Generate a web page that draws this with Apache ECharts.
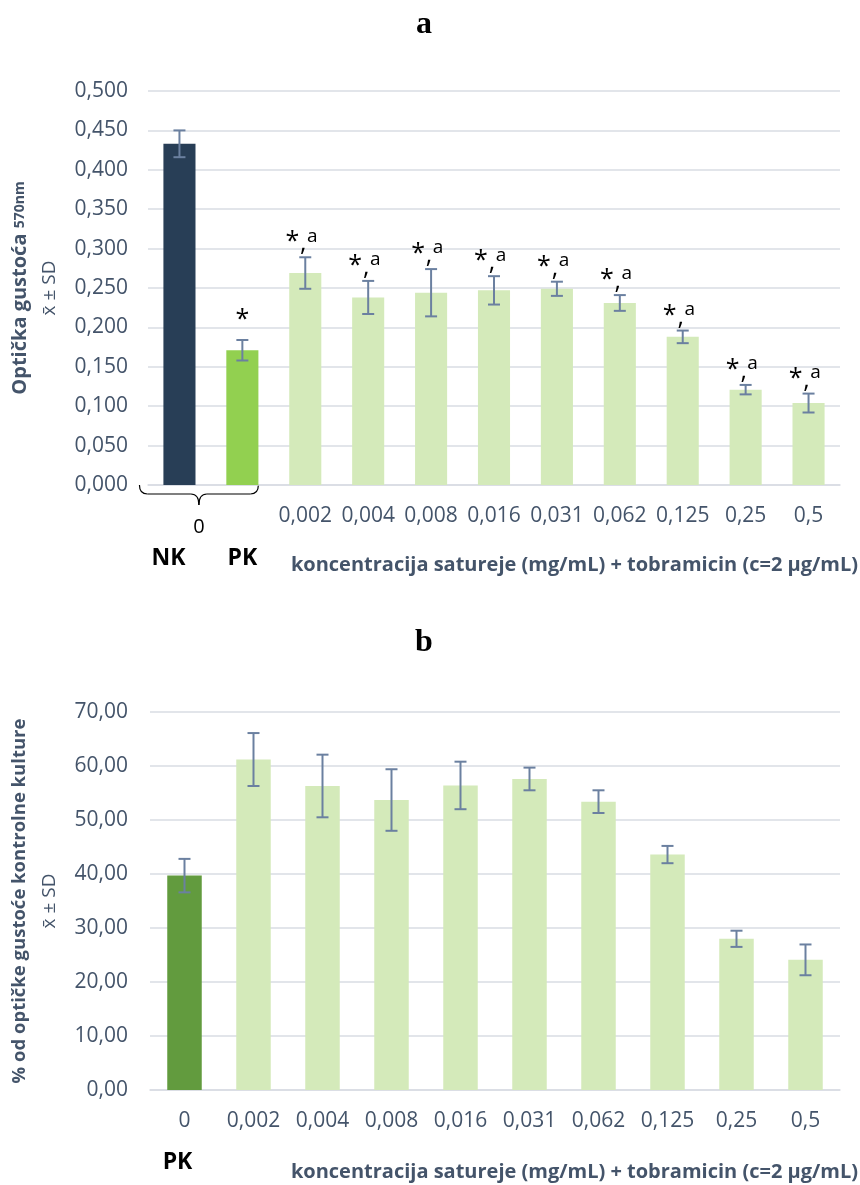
<!DOCTYPE html>
<html><head><meta charset="utf-8">
<script src="https://cdn.jsdelivr.net/npm/echarts@6/dist/echarts.min.js"></script>
<style>html,body{margin:0;padding:0;background:#fff}#c{width:860px;height:1185px}</style>
</head><body><div id="c"></div>
<script>
// ---- data: chart a ----
const catsA = ['NK','PK','0,002','0,004','0,008','0,016','0,031','0,062','0,125','0,25','0,5'];
const valsA = [0.433,0.171,0.269,0.238,0.244,0.247,0.249,0.231,0.188,0.121,0.104];
const sdA   = [0.017,0.013,0.020,0.021,0.030,0.018,0.009,0.010,0.008,0.006,0.012];
const sigA  = ['','*','*a','*a','*a','*a','*a','*a','*a','*a','*a'];
const ticksA = ['0,000','0,050','0,100','0,150','0,200','0,250','0,300','0,350','0,400','0,450','0,500'];
// ---- data: chart b ----
const catsB = ['0','0,002','0,004','0,008','0,016','0,031','0,062','0,125','0,25','0,5'];
const valsB = [39.7,61.2,56.3,53.7,56.4,57.6,53.4,43.6,28.0,24.1];
const sdB   = [3.1,4.9,5.8,5.7,4.4,2.1,2.1,1.6,1.5,2.85];
const ticksB = ['0,00','10,00','20,00','30,00','40,00','50,00','60,00','70,00'];

const FONT = 'Open Sans';
const SLATE = '#44546a';
const ERR = '#6b80a0';
const GRID = '#d9dce3';

const colorA = i => i === 0 ? '#283e56' : (i === 1 ? '#92d050' : '#d4eaba');
const colorB = i => i === 0 ? '#629b3e' : '#d4eaba';

function errRender(params, api) {
  const x = api.value(0), v = api.value(1), sd = api.value(2), sg = api.value(3);
  const hi = api.coord([x, v + sd]);
  const lo = api.coord([x, v - sd]);
  const cap = 6;
  const st = {stroke: ERR, lineWidth: 2};
  const ch = [
    {type:'line', shape:{x1:hi[0], y1:hi[1], x2:lo[0], y2:lo[1]}, style:st},
    {type:'line', shape:{x1:hi[0]-cap, y1:hi[1], x2:hi[0]+cap, y2:hi[1]}, style:st},
    {type:'line', shape:{x1:lo[0]-cap, y1:lo[1], x2:lo[0]+cap, y2:lo[1]}, style:st}
  ];
  const txt = (t, dx, dy, size) => ({type:'text', x: hi[0]+dx, y: hi[1]+dy,
    style:{text:t, fill:'#000', fontSize:size, fontFamily:FONT, align:'center', verticalAlign:'middle'}});
  if (sg === '*') {
    ch.push(txt('*', 0, -20, 25));
  } else if (sg === '*a') {
    ch.push(txt('*', -13, -15, 25));
    ch.push(txt('a', 7, -21, 19));
    ch.push(txt(',', -2, -13, 25));
  }
  return {type:'group', children: ch};
}

const dataA = valsA.map((v,i) => ({value:v, itemStyle:{color: colorA(i)}}));
const dataB = valsB.map((v,i) => ({value:v, itemStyle:{color: colorB(i)}}));
const errA = valsA.map((v,i) => [i, v, sdA[i], sigA[i]]);
const errB = valsB.map((v,i) => [i, v, sdB[i], '']);

const chart = echarts.init(document.getElementById('c'), null, {renderer:'canvas'});
const LH = 29;
const yName = (l1, small, fs) => ({
  name: small ? '{b|' + l1 + ' }{s|' + small + '}\n{n|x̄ ± SD}' : '{b|' + l1 + '}\n{n|x̄ ± SD}',
  nameLocation:'middle', nameRotate:90,
  nameTextStyle:{color:SLATE, lineHeight:LH, rich:{
    b:{fontFamily:FONT, fontWeight:'bold', fontSize:fs, color:SLATE, lineHeight:LH},
    s:{fontFamily:FONT, fontWeight:'bold', fontSize:14, color:SLATE, lineHeight:LH},
    n:{fontFamily:FONT, fontSize:19, color:SLATE, lineHeight:LH}
  }}
});
chart.setOption({
  animation:false,
  title:[
    {text:'a', left:419, top:4, textAlign:'center', textStyle:{fontFamily:'Liberation Serif', fontWeight:'bold', fontSize:32, color:'#000'}},
    {text:'b', left:419, top:622, textAlign:'center', textStyle:{fontFamily:'Liberation Serif', fontWeight:'bold', fontSize:32, color:'#000'}}
  ],
  grid:[
    {left:148, right:20, top:91, height:394, outerBoundsMode:'none', containLabel:false},
    {left:150, right:20, top:712, height:378, outerBoundsMode:'none', containLabel:false}
  ],
  xAxis:[
    {type:'category', gridIndex:0, data:catsA, axisTick:{show:false},
     axisLine:{lineStyle:{color:GRID, width:1.5}},
     axisLabel:{color:SLATE, fontFamily:FONT, fontSize:21, margin:21, interval:0,
       formatter:(v,i) => i < 2 ? '' : v}},
    {type:'category', gridIndex:1, data:catsB, axisTick:{show:false},
     axisLine:{lineStyle:{color:GRID, width:1.5}},
     axisLabel:{color:SLATE, fontFamily:FONT, fontSize:21, margin:21, interval:0}}
  ],
  yAxis:[
    Object.assign({type:'value', gridIndex:0, min:0, max:0.5, interval:0.05,
     axisLabel:{color:SLATE, fontFamily:FONT, fontSize:21, margin:20,
       formatter:v => ticksA[Math.round(v/0.05)]},
     splitLine:{lineStyle:{color:GRID, width:1.5}}, axisLine:{show:false}, axisTick:{show:false},
     nameGap:76}, yName('Optička gustoća', '570nm', 20)),
    Object.assign({type:'value', gridIndex:1, min:0, max:70, interval:10,
     axisLabel:{color:SLATE, fontFamily:FONT, fontSize:21, margin:22,
       formatter:v => ticksB[Math.round(v/10)]},
     splitLine:{lineStyle:{color:GRID, width:1.5}}, axisLine:{show:false}, axisTick:{show:false},
     nameGap:75}, yName('% od optičke gustoće kontrolne kulture', null, 18.5))
  ],
  series:[
    {type:'bar', xAxisIndex:0, yAxisIndex:0, data:dataA, barWidth:'51%'},
    {type:'custom', xAxisIndex:0, yAxisIndex:0, data:errA, renderItem:errRender, z:5},
    {type:'bar', xAxisIndex:1, yAxisIndex:1, data:dataB, barWidth:'50%'},
    {type:'custom', xAxisIndex:1, yAxisIndex:1, data:errB, renderItem:errRender, z:5}
  ]
});

// decorations positioned from the axes
const xNK = chart.convertToPixel({xAxisIndex:0}, 'NK');
const xPK = chart.convertToPixel({xAxisIndex:0}, 'PK');
const y0A = chart.convertToPixel({yAxisIndex:0}, 0);
const xB0 = chart.convertToPixel({xAxisIndex:1}, '0');
const y0B = chart.convertToPixel({yAxisIndex:1}, 0);
const L = xNK - 40, R = xPK + 16, M = (L + R) / 2, T = y0A, Hm = y0A + 9, B = y0A + 20;
const bs = {stroke:'#000', lineWidth:1.2, fill:null};
const boldBlack = {fontFamily:FONT, fontWeight:'bold', fontSize:23, fill:'#000', align:'center', verticalAlign:'middle'};
const xTitle = {fontFamily:FONT, fontWeight:'bold', fontSize:20, fill:SLATE, align:'right', verticalAlign:'middle'};
chart.setOption({graphic:[
  {type:'bezierCurve', shape:{x1:L, y1:T, x2:L+8, y2:Hm, cpx1:L, cpy1:Hm}, style:bs},
  {type:'line', shape:{x1:L+8, y1:Hm, x2:M-8, y2:Hm}, style:bs},
  {type:'bezierCurve', shape:{x1:M-8, y1:Hm, x2:M, y2:B, cpx1:M, cpy1:Hm}, style:bs},
  {type:'bezierCurve', shape:{x1:M, y1:B, x2:M+8, y2:Hm, cpx1:M, cpy1:Hm}, style:bs},
  {type:'line', shape:{x1:M+8, y1:Hm, x2:R-8, y2:Hm}, style:bs},
  {type:'bezierCurve', shape:{x1:R-8, y1:Hm, x2:R, y2:T, cpx1:R, cpy1:Hm}, style:bs},
  {type:'text', x:M, y:y0A+42, style:{text:'0', fontFamily:FONT, fontSize:20, fill:'#000', align:'center', verticalAlign:'middle'}},
  {type:'text', x:xNK-11, y:y0A+73, style:Object.assign({text:'NK'}, boldBlack)},
  {type:'text', x:xPK, y:y0A+73, style:Object.assign({text:'PK'}, boldBlack)},
  {type:'text', x:858, y:y0A+80, style:Object.assign({text:'koncentracija satureje (mg/mL) + tobramicin (c=2 µg/mL)'}, xTitle)},
  {type:'text', x:xB0-7, y:y0B+72, style:Object.assign({text:'PK'}, boldBlack)},
  {type:'text', x:858, y:y0B+82, style:Object.assign({text:'koncentracija satureje (mg/mL) + tobramicin (c=2 µg/mL)'}, xTitle)}
]});
</script></body></html>
